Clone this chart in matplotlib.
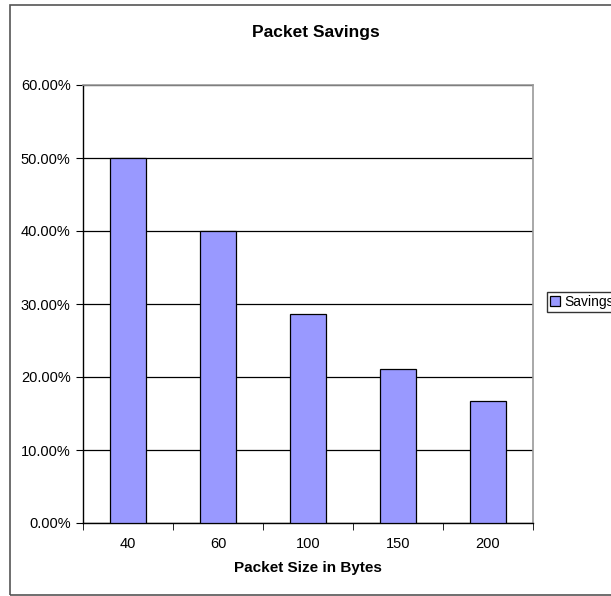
import matplotlib
matplotlib.use("Agg")
import matplotlib.pyplot as plt
from matplotlib.patches import Rectangle
from matplotlib.ticker import FuncFormatter, MultipleLocator, FixedLocator

plt.rcParams['font.family'] = ['Liberation Sans', 'DejaVu Sans']

packet_sizes = ["40", "60", "100", "150", "200"]
savings = [0.50, 0.40, 0.2857, 0.2105, 0.1667]

W, H = 611, 596
fig = plt.figure(figsize=(W / 100, H / 100), dpi=100)

# outer chart frame
fig.patches.append(Rectangle((9.5 / W, 1.5 / H), 700 / W, 589.5 / H, transform=fig.transFigure,
                             fill=False, edgecolor="#555555", linewidth=1.2))

ax = fig.add_axes([83 / W, 1 - 523 / H, 450 / W, 438 / H])
x = list(range(len(packet_sizes)))
ax.bar(x, savings, width=0.41, color="#9999FF", edgecolor="black", linewidth=0.9,
       label="Savings", zorder=3)

ax.set_xlim(-0.5, len(packet_sizes) - 0.5)
ax.set_ylim(0, 0.60)
ax.yaxis.set_major_locator(MultipleLocator(0.10))
ax.yaxis.set_major_formatter(FuncFormatter(lambda v, _: f"{v * 100:.2f}%"))
ax.grid(axis="y", color="black", linewidth=0.9, zorder=0)

ax.set_xticks(x)
ax.set_xticklabels(packet_sizes)
ax.xaxis.set_minor_locator(FixedLocator([i + 0.5 for i in range(-1, len(packet_sizes))]))
ax.tick_params(axis="x", which="major", length=0, pad=10, labelsize=10.5)
ax.tick_params(axis="x", which="minor", length=5, direction="out", color="black")
ax.tick_params(axis="y", length=5, direction="out", labelsize=10.5, pad=4)

for side in ("top", "right"):
    ax.spines[side].set_color("#999999")
    ax.spines[side].set_linewidth(1.2)
for side in ("left", "bottom"):
    ax.spines[side].set_color("black")
    ax.spines[side].set_linewidth(1.0)

ax.set_xlabel("Packet Size in Bytes", fontsize=11, fontweight="bold", labelpad=7)
fig.text(316 / W, 1 - 32 / H, "Packet Savings", ha="center", va="center",
         fontsize=12.5, fontweight="bold")

leg = ax.legend(loc="center left", bbox_to_anchor=(547 / W, 1 - 302 / H),
                bbox_transform=fig.transFigure, frameon=True, fancybox=False,
                fontsize=10, handlelength=0.7, handleheight=0.7, handletextpad=0.3,
                borderpad=0.25, borderaxespad=0)
leg.get_frame().set_edgecolor("black")
leg.get_frame().set_linewidth(1.0)

fig.savefig("out.png", dpi=100)
